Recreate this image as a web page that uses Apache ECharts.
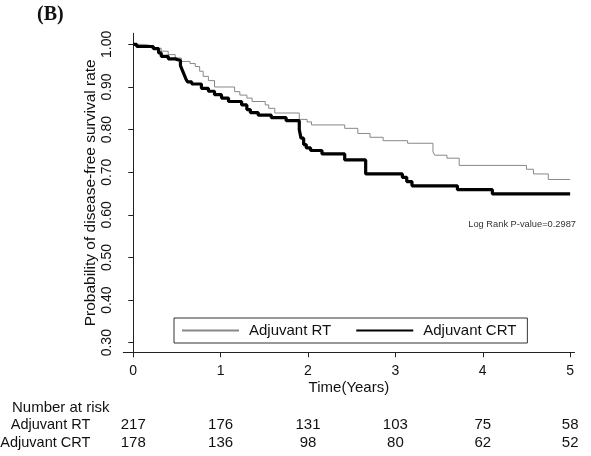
<!DOCTYPE html>
<html>
<head>
<meta charset="utf-8">
<script src="https://cdn.jsdelivr.net/npm/echarts@6/dist/echarts.min.js"></script>
<style>
  html, body { margin: 0; padding: 0; background: #fff; }
  #main { width: 591px; height: 456px; }
</style>
</head>
<body>
<div id="main"></div>
<script>
// Kaplan-Meier steps: time (years) and survival after each drop
var rtTime = [0, 0.13, 0.21, 0.32, 0.40, 0.48, 0.55, 0.65, 0.71, 0.76, 0.80, 0.86, 0.93,
  1.16, 1.22, 1.30, 1.36, 1.51, 1.55, 1.62, 1.90, 1.99, 2.04, 2.42, 2.57, 2.71, 2.86,
  3.14, 3.43, 3.45, 3.59, 3.73, 4.50, 4.58, 4.75, 5.00];
var rtSurv = [1.000, 0.997, 0.991, 0.984, 0.976, 0.968, 0.960, 0.955, 0.948, 0.937, 0.925, 0.915, 0.900,
  0.889, 0.881, 0.874, 0.866, 0.858, 0.850, 0.839, 0.824, 0.818, 0.811, 0.803, 0.791, 0.782, 0.774,
  0.768, 0.748, 0.740, 0.733, 0.716, 0.707, 0.696, 0.683, 0.683];

var crtTime = [0, 0.04, 0.23, 0.29, 0.32, 0.40, 0.48, 0.54, 0.56, 0.58, 0.60, 0.62, 0.67,
  0.78, 0.86, 0.93, 1.01, 1.09, 1.24, 1.30, 1.34, 1.43, 1.58, 1.75, 1.90, 1.92, 1.95,
  1.98, 2.03, 2.16, 2.42, 2.66, 3.08, 3.13, 3.19, 3.71, 4.11, 5.00];
var crtSurv = [1.000, 0.995, 0.990, 0.980, 0.972, 0.966, 0.962, 0.950, 0.940, 0.930, 0.920, 0.912, 0.907,
  0.897, 0.890, 0.882, 0.874, 0.866, 0.858, 0.847, 0.840, 0.834, 0.828, 0.821, 0.800, 0.780, 0.765,
  0.757, 0.751, 0.743, 0.729, 0.696, 0.688, 0.678, 0.668, 0.659, 0.649, 0.649];

var xTicks = [0, 1, 2, 3, 4, 5];
var yTicks = [0.3, 0.4, 0.5, 0.6, 0.7, 0.8, 0.9, 1.0];
var riskRT = [217, 176, 131, 103, 75, 58];
var riskCRT = [178, 136, 98, 80, 62, 52];

function steps(t, s) {
  var pts = [[t[0], s[0]]];
  for (var i = 1; i < t.length; i++) {
    pts.push([t[i], s[i - 1]]);
    pts.push([t[i], s[i]]);
  }
  return pts;
}

var font = 'Liberation Sans, Arial, sans-serif';
var xMin = -0.114, xMax = 5.05;

// extra bottom axes carry the number-at-risk rows, aligned to the year ticks
function riskAxis(name, counts, offset) {
  return {
    type: 'value', gridIndex: 0, position: 'bottom', offset: offset,
    min: xMin, max: xMax,
    axisLine: { show: false }, axisTick: { show: false }, splitLine: { show: false },
    axisLabel: {
      customValues: xTicks, margin: 0, verticalAlign: 'middle',
      fontSize: 15, fontFamily: font, color: '#111',
      formatter: function (v) { return String(counts[xTicks.indexOf(Math.round(v))]); }
    },
    name: name, nameLocation: 'start', nameGap: 33,
    nameTextStyle: { fontSize: 14.5, fontFamily: font, color: '#111', align: 'right', verticalAlign: 'middle' }
  };
}

var chart = echarts.init(document.getElementById('main'));
chart.setOption({
  animation: false,
  backgroundColor: '#fff',
  grid: { left: 123.3, right: 16.5, top: 33.3, bottom: 103.7, outerBoundsMode: 'none' },
  legend: {
    left: 174, top: 318,
    padding: [5, 11, 5, 7],
    backgroundColor: '#fff', borderColor: '#333', borderWidth: 1,
    itemWidth: 57, itemHeight: 14, itemGap: 24,
    itemStyle: { opacity: 0 },
    textStyle: { fontSize: 15, fontFamily: font, color: '#111', padding: [0, 0, 0, 5] },
    data: ['Adjuvant RT', 'Adjuvant CRT']
  },
  xAxis: [{
    type: 'value', min: xMin, max: xMax,
    axisLine: { lineStyle: { color: '#222', width: 1 } },
    axisTick: { customValues: xTicks, length: 5, lineStyle: { color: '#222' } },
    axisLabel: { customValues: xTicks, margin: 12, fontSize: 14, fontFamily: font, color: '#111' },
    splitLine: { show: false },
    name: 'Time(Years)', nameLocation: 'middle', nameGap: 28, nameMoveOverlap: false,
    nameTextStyle: { fontSize: 15, fontFamily: font, color: '#111' }
  },
  riskAxis('Adjuvant RT', riskRT, 72.7),
  riskAxis('Adjuvant CRT', riskCRT, 90.7)],
  yAxis: {
    type: 'value', min: 0.2775, max: 1.026,
    axisLine: { lineStyle: { color: '#222', width: 1 } },
    axisTick: { customValues: yTicks, length: 5, lineStyle: { color: '#222' } },
    axisLabel: {
      customValues: yTicks, rotate: 90, margin: 9, fontSize: 14, fontFamily: font, color: '#111',
      formatter: function (v) { return v.toFixed(2); }
    },
    splitLine: { show: false },
    name: 'Probability of disease-free survival rate', nameLocation: 'middle', nameGap: 25, nameMoveOverlap: false,
    nameTextStyle: { fontSize: 15.5, fontFamily: font, color: '#111' }
  },
  graphic: [
    { type: 'text', left: 37, top: 5, style: { text: '(B)', font: 'bold 20px "Liberation Serif", serif', fill: '#111' } },
    { type: 'text', right: 15, top: 219.5, style: { text: 'Log Rank P-value=0.2987', fontSize: 9.3, fontFamily: font, fill: '#333' } },
    { type: 'text', left: 12, top: 400, style: { text: 'Number at risk', fontSize: 15, fontFamily: font, fill: '#111' } }
  ],
  series: [{
    name: 'Adjuvant RT', type: 'line', symbol: 'none',
    data: steps(rtTime, rtSurv),
    lineStyle: { color: '#888', width: 1 }, itemStyle: { color: '#888' }
  }, {
    name: 'Adjuvant CRT', type: 'line', symbol: 'none',
    data: steps(crtTime, crtSurv),
    lineStyle: { color: '#000', width: 3.2 }, itemStyle: { color: '#000' }
  }]
});
</script>
</body>
</html>
